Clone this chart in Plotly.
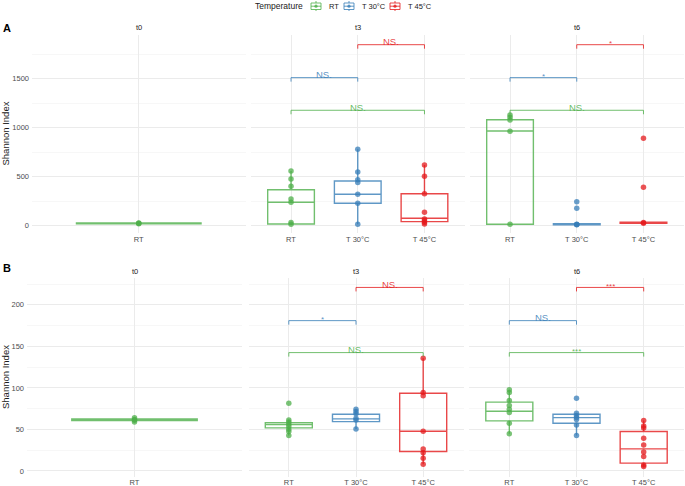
import plotly.graph_objects as go

# ---------------- data ----------------
times = ["t0", "t3", "t6"]
temps = ["RT", "T 30°C", "T 45°C"]
temp_colors = {"RT": "#4DAF4A", "T 30°C": "#377EB8", "T 45°C": "#E41A1C"}

# Panel A – observed points
A_points = {
    ("t0", "RT"): [20, 24, 28],
    ("t3", "RT"): [558, 476, 402, 272, 239, 31, 14],
    ("t3", "T 30°C"): [779, 548, 469, 439, 320, 228, 14],
    ("t3", "T 45°C"): [619, 504, 326, 137, 68, 51, 31, 17],
    ("t6", "RT"): [1129, 1105, 1078, 963, 14],
    ("t6", "T 30°C"): [245, 177, 14, 12, 10],
    ("t6", "T 45°C"): [891, 392, 31, 24],
}
# Panel A – box statistics (lower whisker, q1, median, q3, upper whisker)
A_boxes = {
    ("t0", "RT"): [20, 18, 23, 28, 28],
    ("t3", "RT"): [14, 17, 239, 367, 558],
    ("t3", "T 30°C"): [14, 228, 320, 456, 779],
    ("t3", "T 45°C"): [17, 41, 75, 326, 619],
    ("t6", "RT"): [14, 14, 966, 1081, 1129],
    ("t6", "T 30°C"): [10, 9, 14, 19, 19],
    ("t6", "T 45°C"): [24, 25, 31, 36, 36],
}
# Panel B – observed points
B_points = {
    ("t0", "RT"): [59, 61, 62, 64],
    ("t3", "RT"): [81.6, 61.4, 59, 56.2, 53.4, 50.2, 47.4, 42.6],
    ("t3", "T 30°C"): [74.3, 71.5, 68.7, 63.5, 61.4, 50.6],
    ("t3", "T 45°C"): [135.7, 94.3, 90.4, 47.8, 26.5, 22, 15.3, 8.1],
    ("t6", "RT"): [97.6, 94.3, 84.7, 78.7, 74.3, 70.2, 57.4, 44.6],
    ("t6", "T 30°C"): [87.6, 69.5, 66.6, 64.2, 61.8, 55.4, 42.6],
    ("t6", "T 45°C"): [60.6, 54.2, 51.8, 39.4, 31.3, 22.9, 17.2, 7.2, 5.2],
}
B_boxes = {
    ("t0", "RT"): [59, 60.5, 61.5, 62.5, 64],
    ("t3", "RT"): [42.6, 51.8, 55.8, 58.2, 61.4],
    ("t3", "T 30°C"): [50.6, 59.4, 62.7, 68.3, 74.3],
    ("t3", "T 45°C"): [8.1, 23.3, 47.8, 93.6, 135.7],
    ("t6", "RT"): [44.6, 60.2, 71.9, 82.8, 97.6],
    ("t6", "T 30°C"): [42.6, 57.4, 64.2, 68.3, 69.5],
    ("t6", "T 45°C"): [5.2, 9.3, 26.5, 47.4, 60.6],
}

# Significance comparisons: (group1, group2, colour key)
A_heights = {"green": 1177, "blue": 1510, "red": 1846}
B_heights = {"green": 142.5, "blue": 181, "red": 221}
comparisons = [("RT", "T 45°C", "green"),
               ("RT", "T 30°C", "blue"),
               ("T 30°C", "T 45°C", "red")]
A_labels = {"t3": {"green": "NS.", "blue": "NS.", "red": "NS."},
            "t6": {"green": "NS.", "blue": "*", "red": "*"}}
B_labels = {"t3": {"green": "NS.", "blue": "*", "red": "NS."},
            "t6": {"green": "***", "blue": "NS.", "red": "***"}}

A_yticks = [0, 500, 1000, 1500]
B_yticks = [0, 50, 100, 150, 200]

# ---------------- layout helpers ----------------
W, H = 685, 486
FONT = "Liberation Sans, Arial, sans-serif"
GRID = "#EBEBEB"
TICKC = "#4D4D4D"


def rgba(hexc, a):
    h = hexc.lstrip("#")
    return "rgba(%d,%d,%d,%s)" % (int(h[0:2], 16), int(h[2:4], 16), int(h[4:6], 16), a)


def fx(px):
    return px / W


def fy(px):
    return 1 - px / H


rows = [
    dict(name="A", points=A_points, boxes=A_boxes, heights=A_heights, labels=A_labels,
         yrange=[-75, 1945], yticks=A_yticks, minor=250,
         xdom=[(32, 245.5), (251, 464.5), (470, 683.5)], ydom=(35, 233),
         letter_y=28, strip_y=28),
    dict(name="B", points=B_points, boxes=B_boxes, heights=B_heights, labels=B_labels,
         yrange=[-7, 232], yticks=B_yticks, minor=25,
         xdom=[(27, 242), (248.5, 463.5), (469, 684)], ydom=(278.3, 476.7),
         letter_y=268, strip_y=271.5),
]
color_key = {"green": "RT", "blue": "T 30°C", "red": "T 45°C"}

fig = go.Figure()
layout = dict(width=W, height=H, margin=dict(l=0, r=0, t=0, b=0, autoexpand=False),
              paper_bgcolor="white", plot_bgcolor="white", boxmode="overlay",
              showlegend=False, font=dict(family=FONT, color="#1A1A1A"))
annotations = []
shapes = []

ax_i = 0
for r in rows:
    ytop, ybot = r["ydom"]
    px_per_unit = (ybot - ytop) / (r["yrange"][1] - r["yrange"][0])
    for ci, t in enumerate(times):
        ax_i += 1
        xa = "x" if ax_i == 1 else "x%d" % ax_i
        ya = "y" if ax_i == 1 else "y%d" % ax_i
        cats = [g for g in temps if (t, g) in r["points"]]
        x0p, x1p = r["xdom"][ci]
        layout["xaxis" if ax_i == 1 else "xaxis%d" % ax_i] = dict(
            domain=[fx(x0p), fx(x1p)], anchor=ya, type="category",
            categoryorder="array", categoryarray=cats,
            range=[-0.6, len(cats) - 0.4], showgrid=True, gridcolor=GRID, gridwidth=1,
            zeroline=False, showline=False, ticks="", ticklabelstandoff=0,
            tickfont=dict(size=7.5, color=TICKC, family=FONT), fixedrange=True)
        layout["yaxis" if ax_i == 1 else "yaxis%d" % ax_i] = dict(
            domain=[fy(ybot), fy(ytop)], anchor=xa, range=r["yrange"],
            tickvals=r["yticks"], showticklabels=(ci == 0), showgrid=True,
            gridcolor=GRID, gridwidth=1, zeroline=False, showline=False, ticks="",
            ticklabelstandoff=2,
            minor=dict(dtick=r["minor"], tick0=r["minor"], showgrid=True,
                       gridcolor="#F2F2F2", gridwidth=0.6),
            tickfont=dict(size=7.5, color=TICKC, family=FONT), fixedrange=True)

        for g in cats:
            lo, q1, med, q3, hi = r["boxes"][(t, g)]
            col = temp_colors[g]
            fig.add_trace(go.Box(
                x=[g], q1=[q1], median=[med], q3=[q3], lowerfence=[lo], upperfence=[hi],
                name=g, legendgroup=g, boxpoints=False, width=0.7, whiskerwidth=0,
                fillcolor="rgba(255,255,255,0)",
                line=dict(color=rgba(col, 0.8), width=1.4),
                xaxis=xa, yaxis=ya, hoverinfo="skip"))
            pts = r["points"][(t, g)]
            fig.add_trace(go.Scatter(
                x=[g] * len(pts), y=pts, mode="markers", legendgroup=g,
                marker=dict(color=col, size=5.5, opacity=0.75, line=dict(width=0)),
                xaxis=xa, yaxis=ya, hoverinfo="skip"))

        # strip label
        annotations.append(dict(text=t, x=fx((x0p + x1p) / 2), y=fy(r["strip_y"]),
                                xref="paper", yref="paper", showarrow=False,
                                font=dict(size=7.5, color="#1A1A1A"),
                                xanchor="center", yanchor="middle"))

        # significance brackets
        if t in r["labels"]:
            drop = 4 / px_per_unit
            for g1, g2, key in comparisons:
                i1, i2 = cats.index(g1), cats.index(g2)
                yv = r["heights"][key]
                lc = rgba(temp_colors[color_key[key]], 0.8)
                for (a0, b0, a1, b1) in [(i1, yv - drop, i1, yv), (i1, yv, i2, yv),
                                         (i2, yv, i2, yv - drop)]:
                    shapes.append(dict(type="line", xref=xa, yref=ya, x0=a0, y0=b0,
                                       x1=a1, y1=b1, line=dict(color=lc, width=1)))
                lab = r["labels"][t][key]
                annotations.append(dict(
                    text=lab, x=(i1 + i2) / 2, y=yv, xref=xa, yref=ya, showarrow=False,
                    xanchor="center", yanchor="middle",
                    yshift=3 if lab == "NS." else 1,
                    font=dict(size=9.5 if lab == "NS." else 8,
                              color=rgba(temp_colors[color_key[key]], 0.85))))

    # panel letter
    annotations.append(dict(text="<b>%s</b>" % r["name"], x=fx(1), y=fy(r["letter_y"]),
                            xref="paper", yref="paper", showarrow=False,
                            xanchor="left", yanchor="middle",
                            font=dict(size=11, color="black")))
    # y title
    annotations.append(dict(text="Shannon Index", x=fx(5.5), y=fy((ytop + ybot) / 2),
                            xref="paper", yref="paper", showarrow=False, textangle=-90,
                            xanchor="center", yanchor="middle",
                            font=dict(size=9.5, color="#1A1A1A")))

# ---------------- legend (drawn at top) ----------------
LEG_Y = 6
annotations.append(dict(text="Temperature", x=fx(305), y=fy(LEG_Y), xref="paper",
                        yref="paper", showarrow=False, xanchor="right",
                        yanchor="middle", font=dict(size=8.5, color="#1A1A1A")))
icon_x = [311, 344, 390]
for g, ix in zip(temps, icon_x):
    col = temp_colors[g]
    shapes.append(dict(type="line", xref="paper", yref="paper",
                       x0=fx(ix + 5), x1=fx(ix + 5), y0=fy(1), y1=fy(11),
                       line=dict(color=rgba(col, 0.8), width=1)))
    shapes.append(dict(type="rect", xref="paper", yref="paper",
                       x0=fx(ix), x1=fx(ix + 10), y0=fy(3), y1=fy(9.5),
                       line=dict(color=rgba(col, 0.8), width=1),
                       fillcolor="white"))
    shapes.append(dict(type="line", xref="paper", yref="paper",
                       x0=fx(ix), x1=fx(ix + 10), y0=fy(6.2), y1=fy(6.2),
                       line=dict(color=rgba(col, 0.8), width=1)))
    shapes.append(dict(type="circle", xref="paper", yref="paper",
                       x0=fx(ix + 3.4), x1=fx(ix + 6.6), y0=fy(4.6), y1=fy(7.8),
                       line=dict(width=0), fillcolor=rgba(col, 0.8)))
    annotations.append(dict(text=g, x=fx(ix + 16), y=fy(LEG_Y), xref="paper",
                            yref="paper", showarrow=False, xanchor="left",
                            yanchor="middle", font=dict(size=7.5, color="#1A1A1A")))

layout["annotations"] = annotations
layout["shapes"] = shapes
fig.update_layout(**layout)
fig.write_html("out.html",
               config={"displayModeBar": False, "staticPlot": True},
               post_script="document.body.style.margin='0px';"
                           "document.body.style.overflow='hidden';")
